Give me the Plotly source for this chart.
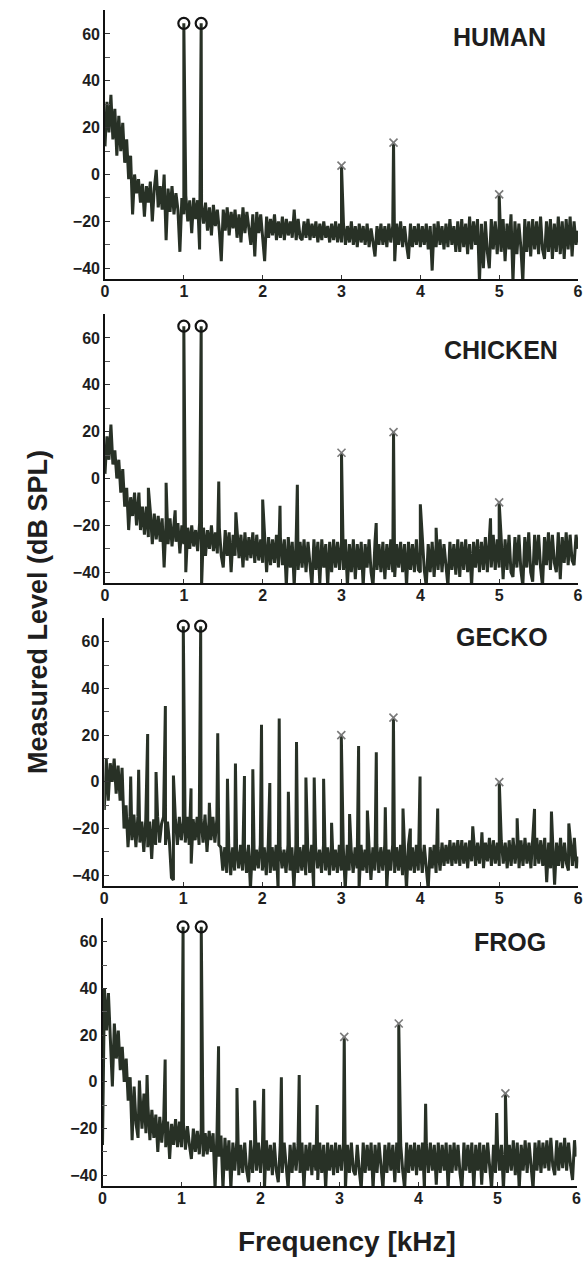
import numpy as np
import plotly.graph_objects as go

# ---------------- data ----------------
panel_names = ["HUMAN", "CHICKEN", "GECKO", "FROG"]

# frequency grid of the background spectrum (kHz), 0.025 kHz spacing
freq_grid = np.round(np.arange(0, 241) * 0.025, 3)

human_noise = [
    12, 31, 18, 34, 15, 28, 8, 25, 10, 22, 5, 15, -2, 8, -17, 0, -8, -2, -12, -4,
    -18, -5, -12, -3, -20, -6, 2, -14, -5, -15, 0, -28, -6, -16, -5, -17, -8, -15, -33, -10,
    -17, -9, -20, -11, -25, -10, -19, -11, -32, -13, -21, -12, -24, -14, -26, -13, -22, -15, -24, -37,
    -15, -24, -14, -26, -16, -23, -15, -27, -17, -29, -14, -25, -16, -24, -30, -17, -35, -16, -25, -17,
    -26, -37, -18, -27, -19, -26, -17, -28, -20, -27, -18, -28, -19, -26, -20, -27, -15, -28, -19, -27,
    -28, -20, -27, -19, -28, -21, -27, -20, -29, -21, -28, -20, -27, -22, -29, -21, -28, -20, -29, -21,
    -29, -21, -30, -22, -29, -20, -30, -22, -31, -21, -29, -22, -30, -21, -31, -23, -29, -35, -22, -30,
    -21, -30, -22, -31, -21, -29, -22, -37, -21, -30, -20, -31, -22, -30, -36, -21, -31, -22, -30, -21,
    -31, -22, -30, -21, -32, -22, -41, -21, -31, -20, -30, -22, -32, -21, -31, -19, -30, -22, -33, -20,
    -33, -19, -31, -21, -34, -18, -32, -20, -30, -19, -46, -21, -40, -20, -33, -40, -19, -32, -20, -34,
    -21, -33, -19, -37, -21, -32, -17, -46, -20, -34, -21, -31, -46, -19, -33, -20, -35, -19, -32, -20,
    -34, -18, -32, -36, -20, -33, -19, -36, -21, -33, -18, -34, -20, -36, -19, -32, -18, -35, -20, -30,
    -24,
]
chicken_noise = [
    2, 18, 8, 23, 6, 12, 0, 8, -6, 4, -12, -4, -22, -8, -16, -6, -20, -10, -22, -12,
    -24, -12, -25, -14, -28, -15, -26, -16, -27, -17, -38, -18, -28, -17, -29, -18, -27, -19, -32, -20,
    -28, -40, -21, -30, -20, -29, -22, -31, -19, -46, -21, -33, -22, -30, -20, -31, -23, -32, -21, -33,
    -38, -22, -33, -23, -40, -24, -33, -22, -34, -24, -38, -23, -35, -25, -34, -23, -36, -24, -35, -26,
    -36, -24, -40, -25, -37, -26, -36, -24, -38, -25, -37, -26, -46, -25, -38, -27, -46, -26, -39, -27,
    -38, -26, -40, -27, -38, -46, -26, -39, -27, -45, -26, -38, -28, -46, -27, -40, -26, -38, -27, -39,
    -27, -39, -26, -46, -28, -40, -26, -43, -28, -39, -27, -46, -28, -38, -26, -40, -46, -27, -39, -28,
    -40, -27, -43, -28, -39, -26, -40, -42, -28, -38, -27, -40, -28, -46, -27, -39, -28, -40, -26, -39,
    -40, -27, -39, -46, -28, -40, -27, -42, -28, -39, -26, -40, -28, -38, -46, -27, -39, -28, -41, -26,
    -42, -27, -39, -26, -40, -28, -46, -27, -38, -26, -40, -27, -39, -25, -40, -26, -38, -24, -39, -26,
    -38, -25, -43, -26, -39, -24, -40, -42, -25, -38, -24, -39, -46, -25, -38, -23, -40, -44, -24, -37,
    -24, -38, -46, -25, -37, -23, -39, -24, -36, -40, -23, -43, -25, -36, -23, -37, -24, -35, -37, -24,
    -30,
]
gecko_noise = [
    -12, 10, -8, 8, 0, 10, -5, 7, -8, 6, -20, -10, -28, -15, -25, -14, -28, -15, -26, -17,
    -30, -16, -28, -17, -33, -16, -27, -15, -26, -18, -15, -27, -17, -26, -41, -42, -16, -27, -15, -25,
    -17, -26, -15, -27, -35, -16, -25, -15, -27, -16, -26, -14, -30, -17, -25, -15, -26, -16, -27, -28,
    -38, -28, -39, -27, -40, -28, -38, -29, -37, -27, -38, -28, -39, -27, -46, -28, -38, -29, -37, -27,
    -38, -28, -40, -27, -39, -28, -38, -27, -46, -28, -37, -29, -39, -27, -38, -28, -46, -27, -39, -28,
    -38, -27, -40, -28, -39, -27, -46, -28, -37, -29, -39, -27, -38, -28, -40, -27, -38, -29, -39, -27,
    -38, -28, -46, -27, -38, -29, -39, -28, -37, -46, -27, -38, -29, -39, -27, -42, -28, -38, -27, -39,
    -28, -38, -27, -46, -29, -38, -27, -39, -28, -38, -27, -40, -28, -46, -27, -38, -28, -39, -27, -38,
    -28, -39, -27, -38, -46, -28, -37, -27, -39, -28, -38, -26, -36, -27, -35, -25, -36, -26, -35, -25,
    -36, -25, -35, -26, -37, -25, -34, -24, -36, -26, -35, -25, -37, -26, -34, -24, -36, -25, -35, -26,
    -36, -25, -35, -26, -37, -25, -36, -24, -35, -26, -37, -25, -36, -24, -35, -26, -37, -25, -36, -24,
    -35, -25, -36, -24, -43, -26, -37, -25, -44, -26, -36, -24, -37, -26, -35, -38, -25, -36, -24, -37,
    -32,
]
frog_noise = [
    -27, 40, 22, 38, 18, -2, 25, 10, 22, 5, 15, 0, 10, -8, 2, -25, -2, -18, -24, -5,
    -20, -5, -22, -10, -25, -12, -24, -14, -30, -15, -26, -16, -28, -17, -33, -18, -27, -16, -28, -17,
    -28, -18, -29, -19, -27, -33, -20, -30, -21, -31, -20, -32, -22, -31, -21, -30, -22, -46, -21, -32,
    -23, -46, -24, -38, -25, -46, -26, -38, -25, -40, -27, -39, -26, -38, -43, -25, -39, -27, -38, -26,
    -39, -27, -46, -25, -38, -27, -40, -26, -38, -43, -27, -39, -26, -38, -46, -27, -39, -26, -38, -27,
    -39, -26, -46, -27, -38, -26, -40, -27, -38, -42, -26, -39, -27, -46, -26, -38, -27, -40, -26, -39,
    -27, -38, -26, -46, -27, -39, -26, -38, -40, -27, -38, -46, -26, -39, -27, -38, -26, -46, -27, -39,
    -26, -38, -46, -27, -39, -26, -38, -27, -43, -26, -39, -27, -38, -46, -26, -39, -27, -38, -26, -40,
    -27, -38, -26, -46, -27, -39, -26, -38, -27, -44, -26, -39, -27, -38, -26, -46, -27, -39, -26, -38,
    -27, -39, -46, -26, -38, -27, -39, -26, -46, -27, -38, -26, -44, -27, -39, -26, -38, -46, -27, -39,
    -26, -38, -27, -46, -26, -39, -27, -38, -25, -40, -26, -46, -27, -38, -25, -39, -26, -38, -46, -26,
    -38, -25, -39, -26, -37, -25, -38, -24, -36, -40, -25, -38, -26, -37, -24, -38, -26, -36, -42, -25,
    -32,
]

# primary tones (circles) : frequency kHz, level dB SPL
human_primary_f = [1.0, 1.22]
human_primary_v = [64.5, 64.5]
chicken_primary_f = [1.0, 1.22]
chicken_primary_v = [65.0, 65.0]
gecko_primary_f = [1.0, 1.22]
gecko_primary_v = [66.7, 66.7]
frog_primary_f = [1.02, 1.25]
frog_primary_v = [66.4, 66.4]

# marked distortion components (x)
human_marked_f = [3.0, 3.66, 5.0]
human_marked_v = [3.8, 13.6, -8.5]
chicken_marked_f = [3.0, 3.66, 5.0]
chicken_marked_v = [11.0, 19.8, -10.2]
gecko_marked_f = [3.0, 3.66, 5.0]
gecko_marked_v = [20.0, 27.5, -0.1]
frog_marked_f = [3.06, 3.75, 5.1]
frog_marked_v = [19.3, 25.0, -4.9]

# other distortion-product peaks
human_dp_f = []
human_dp_v = []
chicken_dp_f = [0.43, 0.55, 0.775, 0.89, 1.443, 1.66, 2.0, 2.22, 2.44, 3.44, 4.0, 4.2, 4.89]
chicken_dp_v = [-6, -4, -1.8, -13.6, -1.3, -14.4, -9, -11.6, -2.7, -19, -11, -21, -17]
gecko_dp_f = [0.334, 0.435, 0.549, 0.655, 0.773, 0.875, 1.098, 1.33, 1.436, 1.559, 1.66, 1.774,
              1.88, 1.99, 2.095, 2.214, 2.33, 2.433, 2.552, 2.657, 2.776, 2.877, 3.105, 3.219,
              3.33, 3.443, 3.557, 3.781, 3.874, 3.997, 4.22, 4.664, 4.78, 5.226, 5.446, 5.66, 5.88]
gecko_dp_v = [2.3, 5.2, 20.5, 4.2, 32.5, 2.7, -2.8, -9, 20.8, 1.3, 7.9, 2.5,
              5.4, 24.5, -0.5, 27.1, -4.2, 17.1, 1.9, 1.9, 1.3, -17.5, -13.8, 15.4,
              -12.3, 12.7, -10.9, -11.4, -20, 2.3, -11.4, -19, -21.6, -15.6, -11.6, -12.7, -17.8]
frog_dp_f = [0.467, 0.564, 0.793, 1.469, 1.702, 1.926, 2.04, 2.264, 2.49, 2.717, 4.09, 4.99]
frog_dp_v = [0.6, 2.9, 9.6, 15.3, -2.6, -8, -3, 2, 2.9, -9.9, -9.4, -13.3]

# ---------------- layout constants ----------------
LINE = "#283126"
FONT = "Liberation Sans"
W, H = 584, 1262
ML, MR, MT, MB = 100, 4, 8, 70
PW, PH = W - ML - MR, H - MT - MB


def px_x(p):
    return (p - ML) / PW


def px_y(p):
    return (H - MB - p) / PH


panels = [
    dict(noise=human_noise, pf=human_primary_f, pv=human_primary_v, mf=human_marked_f,
         mv=human_marked_v, df=human_dp_f, dv=human_dp_v, xpx=(105, 578), ypx=(279, 10),
         label_xy=(5.62, 58.5)),
    dict(noise=chicken_noise, pf=chicken_primary_f, pv=chicken_primary_v, mf=chicken_marked_f,
         mv=chicken_marked_v, df=chicken_dp_f, dv=chicken_dp_v, xpx=(105, 578), ypx=(583, 314),
         label_xy=(5.77, 55.0)),
    dict(noise=gecko_noise, pf=gecko_primary_f, pv=gecko_primary_v, mf=gecko_marked_f,
         mv=gecko_marked_v, df=gecko_dp_f, dv=gecko_dp_v, xpx=(104.3, 578.3), ypx=(886, 618),
         label_xy=(5.64, 62.0)),
    dict(noise=frog_noise, pf=frog_primary_f, pv=frog_primary_v, mf=frog_marked_f,
         mv=frog_marked_v, df=frog_dp_f, dv=frog_dp_v, xpx=(102.5, 576.5), ypx=(1186, 918),
         label_xy=(5.64, 60.0)),
]

fig = go.Figure()
tickfont = dict(family=FONT, size=16, color="#1e1e1e", weight="bold")

for i, p in enumerate(panels):
    n = i + 1
    xa = "x" if n == 1 else f"x{n}"
    ya = "y" if n == 1 else f"y{n}"
    pts = list(zip(freq_grid.tolist(), p["noise"]))
    pts += list(zip(p["pf"], p["pv"])) + list(zip(p["mf"], p["mv"])) + list(zip(p["df"], p["dv"]))
    pts.sort(key=lambda t: t[0])
    fig.add_trace(go.Scatter(
        x=[t[0] for t in pts], y=[t[1] for t in pts], mode="lines",
        line=dict(color=LINE, width=3.0), xaxis=xa, yaxis=ya, showlegend=False,
        hoverinfo="skip"))
    fig.add_trace(go.Scatter(
        x=p["pf"], y=p["pv"], mode="markers", xaxis=xa, yaxis=ya, showlegend=False,
        marker=dict(symbol="circle-open", size=11, color="#141414", line=dict(width=2.2))))
    fig.add_trace(go.Scatter(
        x=p["mf"], y=p["mv"], mode="markers", xaxis=xa, yaxis=ya, showlegend=False,
        marker=dict(symbol="x-thin-open", size=8, color="#7a7a7a", line=dict(width=1.6))))

    xkey = "xaxis" if n == 1 else f"xaxis{n}"
    ykey = "yaxis" if n == 1 else f"yaxis{n}"
    fig.layout[xkey] = dict(
        domain=[px_x(p["xpx"][0]), px_x(p["xpx"][1])], anchor=ya, range=[0, 6],
        showline=True, linecolor="#111", linewidth=1.6, mirror=False,
        showgrid=False, zeroline=False, ticks="inside", ticklen=4, tickwidth=1,
        tickcolor="#333", tickvals=[0, 1, 2, 3, 4, 5, 6], tickfont=tickfont,
        ticklabelstandoff=-3, ticklabeloverflow="allow")
    fig.layout[ykey] = dict(
        domain=[px_y(p["ypx"][0]), px_y(p["ypx"][1])], anchor=xa, range=[-44.6, 70.2],
        showline=True, linecolor="#111", linewidth=1.6, mirror=False,
        showgrid=False, zeroline=False, ticks="inside", ticklen=5, tickwidth=1,
        tickcolor="#333", tickvals=[-40, -20, 0, 20, 40, 60], tickfont=tickfont,
        ticklabelstandoff=0, ticklabeloverflow="allow",
        minor=dict(tickvals=[-30, -10, 10, 30, 50, 70], ticks="inside", ticklen=5,
                   tickcolor="#555", tickwidth=1))
    fig.add_annotation(
        x=p["label_xy"][0], y=p["label_xy"][1], xref=xa, yref=ya, text=panel_names[i],
        showarrow=False, xanchor="right", yanchor="middle",
        font=dict(family=FONT, size=25, color="#1e1e1e", weight="bold"))

fig.add_annotation(
    x=px_x(347), y=px_y(1241), xref="paper", yref="paper", text="Frequency [kHz]",
    showarrow=False, xanchor="center", yanchor="middle",
    font=dict(family=FONT, size=28, color="#1e1e1e", weight="bold"))
fig.add_annotation(
    x=px_x(38), y=px_y(612), xref="paper", yref="paper", text="Measured Level (dB SPL)",
    showarrow=False, xanchor="center", yanchor="middle", textangle=-90,
    font=dict(family=FONT, size=27, color="#1e1e1e", weight="bold"))

fig.update_layout(
    width=W, height=H, margin=dict(l=ML, r=MR, t=MT, b=MB, autoexpand=False),
    paper_bgcolor="white", plot_bgcolor="white", showlegend=False)

fig.write_html("out.html", config={"displayModeBar": False},
               post_script="document.body.style.margin='0px';document.body.style.padding='0px';")
